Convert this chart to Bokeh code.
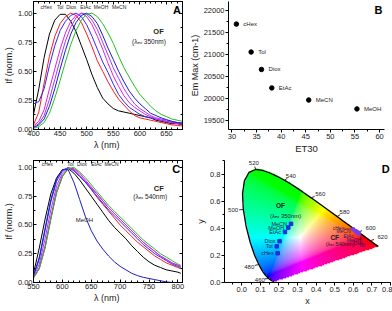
import numpy as np
from bokeh.plotting import figure
from bokeh.models import (Range1d, LinearAxis, SingleIntervalTicker, NumeralTickFormatter,
                          ColumnDataSource, CustomJSTickFormatter)
from bokeh.layouts import row, column
from bokeh.embed import file_html
from bokeh.resources import INLINE
from bokeh.core.properties import value

FONT = "Liberation Sans"

# ---------------- Panel A (OF emission, lambda_ex 350 nm) ----------------
WL_A = list(range(400, 690, 10))
A_BLACK = [.13, .35, .62, .82, .94, .99, .99, .93, .84, .72, .60, .47, .36, .27, .22, .18, .16, .15, .14, .13, .12, .11, .10, .08, .07, .06, .05, .05, .04]
A_RED = [.04, .15, .40, .63, .80, .91, .97, 1.0, .98, .92, .82, .71, .59, .50, .41, .33, .26, .21, .16, .12, .10, .09, .08, .07, .06, .05, .04, .035, .03]
A_BLUE1 = [.22, .24, .35, .55, .72, .85, .93, .98, 1.0, .97, .90, .80, .69, .58, .49, .39, .30, .24, .19, .16, .13, .11, .10, .09, .08, .07, .06, .055, .05]
A_MAG = [.03, .07, .17, .35, .52, .69, .83, .93, .98, 1.0, .97, .90, .80, .69, .57, .46, .37, .29, .23, .19, .16, .13, .11, .09, .08, .07, .06, .05, .045]
A_VIO = [.02, .05, .12, .26, .43, .60, .76, .88, .96, 1.0, .99, .94, .86, .75, .64, .53, .44, .35, .28, .22, .18, .15, .12, .10, .09, .08, .07, .06, .055]
A_BLUE2 = [.015, .04, .09, .20, .35, .52, .68, .82, .92, .98, 1.0, .97, .91, .81, .70, .60, .50, .41, .33, .27, .22, .18, .14, .12, .10, .085, .07, .06, .055]
A_GREEN = [.01, .025, .06, .14, .27, .42, .58, .73, .85, .94, .99, 1.0, .97, .91, .83, .74, .63, .53, .45, .37, .30, .25, .20, .16, .13, .11, .09, .08, .07]
A_SERIES = [A_BLACK, A_RED, A_BLUE1, A_MAG, A_VIO, A_BLUE2, A_GREEN]
A_COLORS = ["#000000", "#ff1a1a", "#2a2aff", "#e020e0", "#9a3cff", "#1c1cc8", "#22c022"]
A_NAMES = ["cHex", "Tol", "Diox", "EtAc", "MeOH", "MeCN"]
A_NAME_X = [424, 450, 471, 498, 527, 561]

# ---------------- Panel B (Em max vs ET30) ----------------
B_NAMES = ["cHex", "Tol", "Diox", "EtAc", "MeCN", "MeOH"]
ET30 = [30.9, 33.9, 36.0, 38.1, 45.6, 55.4]
EM_MAX = [21686, 21051, 20655, 20235, 19960, 19758]

# ---------------- Panel C (CF emission, lambda_ex 540 nm) ----------------
WL_C = list(range(550, 810, 10)) + [805]
C_BLACK = [.08, .30, .55, .77, .91, .98, .99, .95, .89, .82, .75, .68, .61, .54, .48, .43, .38, .32, .27, .22, .18, .15, .13, .11, .10, .09, .08]
C_BLUE = [.06, .20, .45, .70, .88, .97, 1.0, .97, .92, .87, .81, .75, .69, .63, .58, .53, .48, .43, .38, .33, .29, .25, .22, .19, .16, .14, .13]
C_VIO = [.05, .16, .38, .63, .84, .95, 1.0, .98, .93, .88, .82, .77, .71, .65, .60, .55, .50, .45, .40, .35, .31, .27, .23, .20, .17, .15, .14]
C_RED = [.04, .12, .30, .55, .78, .92, .99, .98, .93, .87, .81, .74, .68, .62, .56, .50, .45, .40, .35, .31, .27, .23, .20, .17, .15, .13, .12]
C_MAG = [.04, .13, .32, .57, .80, .93, .99, .99, .95, .89, .83, .77, .71, .65, .60, .55, .50, .45, .40, .35, .31, .27, .23, .20, .17, .15, .14]
C_GREEN = [.04, .12, .30, .55, .78, .92, .99, 1.0, .96, .91, .85, .79, .73, .67, .62, .57, .52, .47, .42, .37, .33, .29, .25, .22, .19, .16, .15]
C_MEOH = [.06, .22, .47, .72, .90, .98, .98, .87, .72, .57, .45, .36, .29, .23, .18, .14, .11, .08, .06, .045, .035, .025, .015, .005, 0.0, 0.0, 0.0]
C_SERIES = [C_BLACK, C_RED, C_BLUE, C_VIO, C_MAG, C_GREEN, C_MEOH]
C_COLORS = ["#000000", "#ff1a1a", "#2a2aff", "#9a3cff", "#e020e0", "#22c022", "#1c1cc8"]
C_NAMES = ["cHex", "Tol", "Diox", "EtAc", "MeCN"]
C_NAME_X = [574, 614, 634, 659, 685]

# ---------------- Panel D (CIE 1931) ----------------
LOCUS_WL = [380, 400, 420, 440, 450, 460, 470, 475, 480, 485, 490, 495, 500, 505, 510, 515, 520, 525,
            530, 535, 540, 545, 550, 555, 560, 565, 570, 575, 580, 585, 590, 595, 600, 605, 610, 620,
            630, 640, 660, 700]
LOCUS_X = [0.1741, 0.1733, 0.1714, 0.1644, 0.1566, 0.1440, 0.1241, 0.1096, 0.0913, 0.0687, 0.0454,
           0.0235, 0.0082, 0.0039, 0.0139, 0.0389, 0.0743, 0.1142, 0.1547, 0.1929, 0.2296, 0.2658,
           0.3016, 0.3373, 0.3731, 0.4087, 0.4441, 0.4788, 0.5125, 0.5448, 0.5752, 0.6029, 0.6270,
           0.6482, 0.6658, 0.6915, 0.7079, 0.7190, 0.7300, 0.7347]
LOCUS_Y = [0.0050, 0.0048, 0.0051, 0.0109, 0.0177, 0.0297, 0.0578, 0.0868, 0.1327, 0.2007, 0.2950,
           0.4127, 0.5384, 0.6548, 0.7502, 0.8120, 0.8338, 0.8262, 0.8059, 0.7816, 0.7543, 0.7243,
           0.6923, 0.6589, 0.6245, 0.5896, 0.5547, 0.5202, 0.4866, 0.4544, 0.4242, 0.3965, 0.3725,
           0.3514, 0.3340, 0.3083, 0.2920, 0.2809, 0.2700, 0.2653]
WL_LABELS = [460, 480, 500, 520, 540, 560, 580, 600, 620]
WL_LABEL_X = [0.097, 0.040, -0.047, 0.065, 0.264, 0.422, 0.553, 0.693, 0.757]
WL_LABEL_Y = [0.022, 0.116, 0.533, 0.878, 0.787, 0.653, 0.520, 0.405, 0.338]

OF_NAMES = ["cHex", "Tol", "Diox", "EtAc", "MeOH", "MeCN"]
OF_X = [0.193, 0.188, 0.203, 0.232, 0.250, 0.265]
OF_Y = [0.216, 0.267, 0.305, 0.373, 0.405, 0.433]
CF_NAMES = ["cHex", "MeCN", "EtAc", "MeOH", "Diox", "Tol"]
CF_X = [0.600, 0.612, 0.618, 0.622, 0.626, 0.630]
CF_Y = [0.392, 0.380, 0.374, 0.370, 0.366, 0.362]
CF_LABEL_X = [0.520, 0.547, 0.575, 0.603, 0.627, 0.646]
CF_LABEL_Y = [0.405, 0.378, 0.345, 0.316, 0.293, 0.276]


def base_fig(w, h, xr, yr, bl, br, bt, bb, outline=True):
    p = figure(width=w, height=h, x_range=Range1d(*xr), y_range=Range1d(*yr),
               output_backend="svg", toolbar_location=None,
               min_border_left=bl, min_border_right=br, min_border_top=bt, min_border_bottom=bb)
    p.xgrid.grid_line_color = None
    p.ygrid.grid_line_color = None
    p.outline_line_color = "black" if outline else None
    p.outline_line_width = 1
    p.background_fill_color = "white"
    p.border_fill_color = "white"
    return p


def style_axis(ax, label, ticker, fmt, inside, label_size="9px"):
    ax.ticker = ticker
    ax.formatter = NumeralTickFormatter(format=fmt)
    ax.axis_label = label
    ax.axis_label_text_font = FONT
    ax.axis_label_text_font_style = "normal"
    ax.axis_label_text_font_size = label_size
    ax.axis_label_text_color = "#222222"
    ax.axis_label_standoff = 1
    ax.major_label_text_font = FONT
    ax.major_label_text_font_size = "7.5px"
    ax.major_label_text_color = "#222222"
    ax.major_label_standoff = 1
    ax.axis_line_color = "black"
    ax.major_tick_line_color = "black"
    ax.minor_tick_line_color = "black"
    if inside:
        ax.major_tick_in, ax.major_tick_out = 3, 0
        ax.minor_tick_in, ax.minor_tick_out = 2, 0
    else:
        ax.major_tick_in, ax.major_tick_out = 0, 3
        ax.minor_tick_in, ax.minor_tick_out = 0, 2


def mirror(p, xticker, yticker):
    for loc, tk in (("above", xticker), ("right", yticker)):
        ax = LinearAxis(ticker=tk, formatter=CustomJSTickFormatter(code="return ''"),
                        major_tick_in=3, major_tick_out=0, minor_tick_in=2, minor_tick_out=0,
                        major_label_standoff=0, major_label_text_font_size="1px",
                        axis_line_color="black")
        p.add_layout(ax, loc)


def texts(p, xs, ys, ts, size="6.5px", align="center", style="normal", color="#222222",
          xoff=0, yoff=0):
    src = ColumnDataSource(dict(x=xs, y=ys, t=ts))
    p.text(x="x", y="y", text="t", source=src, text_font=value(FONT), text_font_size=value(size),
           text_align=align, text_baseline="middle", text_font_style=style, text_color=color,
           x_offset=xoff, y_offset=yoff)


# ---- Panel A ----
pA = base_fig(186, 156, (400, 680), (0, 1.10), 28, 4, 1, 24)
xtA = SingleIntervalTicker(interval=50, num_minor_ticks=5)
ytA = SingleIntervalTicker(interval=0.25, num_minor_ticks=2)
style_axis(pA.xaxis[0], "λ  (nm)", xtA, "0", True)
style_axis(pA.yaxis[0], "If (norm.)", ytA, "0.00", True)
mirror(pA, xtA, ytA)
for ys, c in zip(A_SERIES, A_COLORS):
    pA.line(WL_A, ys, line_color=c, line_width=1)
texts(pA, A_NAME_X, [1.054] * len(A_NAMES), A_NAMES, size="5px")
texts(pA, [635], [0.84], ["OF"], size="7.5px", style="bold")
texts(pA, [617], [0.757], ["(λₑₓ 350nm)"], size="6.5px")
texts(pA, [677], [1.03], ["A"], size="11px", style="bold", align="right", color="black")

# ---- Panel B ----
pB = base_fig(206, 156, (29.3, 61), (19290, 22200), 40, 8, 1, 24, outline=False)
style_axis(pB.xaxis[0], "ET30", SingleIntervalTicker(interval=5, num_minor_ticks=2), "0", False, "9.5px")
style_axis(pB.yaxis[0], "Em Max (cm-1)", SingleIntervalTicker(interval=500, num_minor_ticks=2), "0", False)
pB.scatter(ET30, EM_MAX, size=4.5, color="black")
texts(pB, ET30, EM_MAX, B_NAMES, size="6px", align="left", xoff=7)
texts(pB, [60.6], [22000], ["B"], size="11px", style="bold", align="right", color="black")

# ---- Panel C ----
pC = base_fig(186, 152, (550, 808), (0, 1.06), 28, 4, 4, 24)
xtC = SingleIntervalTicker(interval=50, num_minor_ticks=5)
ytC = SingleIntervalTicker(interval=0.25, num_minor_ticks=2)
style_axis(pC.xaxis[0], "λ  (nm)", xtC, "0", True)
style_axis(pC.yaxis[0], "If (norm.)", ytC, "0.00", True)
mirror(pC, xtC, ytC)
for ys, c in zip(C_SERIES, C_COLORS):
    pC.line(WL_C, ys, line_color=c, line_width=1)
texts(pC, C_NAME_X, [1.027] * len(C_NAMES), C_NAMES, size="5px")
texts(pC, [638], [0.547], ["MeOH"], size="6px")
texts(pC, [767], [0.82], ["CF"], size="7.5px", style="bold")
texts(pC, [752], [0.745], ["(λₑₓ 540nm)"], size="6.5px")
texts(pC, [804], [0.99], ["C"], size="11px", style="bold", align="right", color="black")

# ---- Panel D ----
pD = base_fig(206, 152, (-0.093, 0.80), (0, 0.90), 38, 2, 0, 20, outline=False)
style_axis(pD.xaxis[0], "x", SingleIntervalTicker(interval=0.1, num_minor_ticks=2), "0.0", False)
style_axis(pD.yaxis[0], "y", SingleIntervalTicker(interval=0.2, num_minor_ticks=2), "0.0", False)

# chromaticity background (colour conversion of the xy plane, masked to the locus)
lx = np.array(LOCUS_X)
ly = np.array(LOCUS_Y)
nx, ny = 240, 270
gx = np.linspace(0.0, 0.74, nx)
gy = np.linspace(0.0015, 0.84, ny)
GX, GY = np.meshgrid(gx, gy)
inside = np.zeros(GX.shape, dtype=bool)
j = len(lx) - 1
for i in range(len(lx)):
    cond = ((ly[i] > GY) != (ly[j] > GY)) & \
           (GX < (lx[j] - lx[i]) * (GY - ly[i]) / (ly[j] - ly[i] + 1e-12) + lx[i])
    inside ^= cond
    j = i
XX = GX / GY
ZZ = (1 - GX - GY) / GY
M = np.array([[3.2406, -1.5372, -0.4986], [-0.9689, 1.8758, 0.0415], [0.0557, -0.2040, 1.0570]])
rgb = np.stack([M[k, 0] * XX + M[k, 1] + M[k, 2] * ZZ for k in range(3)], axis=-1)
rgb = np.clip(rgb, 0, None)
rgb = rgb / np.maximum(rgb.max(axis=-1, keepdims=True), 1e-9)
rgb = rgb ** (1 / 2.2)
img = np.zeros((ny, nx, 4), dtype=np.uint8)
img[..., :3] = (rgb * 255).astype(np.uint8)
img[..., 3] = np.where(inside, 255, 0)
img32 = img.view(dtype=np.uint32).reshape((ny, nx))
pD.image_rgba(image=[img32], x=0.0, y=0.0, dw=0.74, dh=0.84)
pD.line(LOCUS_X, LOCUS_Y, line_color="black", line_width=1.3)

# wavelength ticks and labels
tx0, ty0, tx1, ty1 = [], [], [], []
for wl, lbx, lby in zip(WL_LABELS, WL_LABEL_X, WL_LABEL_Y):
    k = LOCUS_WL.index(wl)
    x0, y0 = LOCUS_X[k], LOCUS_Y[k]
    dx, dy = lbx - x0, lby - y0
    n = (dx * dx + dy * dy) ** 0.5
    tx0.append(x0); ty0.append(y0)
    tx1.append(x0 + 0.022 * dx / n); ty1.append(y0 + 0.022 * dy / n)
pD.segment(tx0, ty0, tx1, ty1, line_color="black", line_width=0.8)
texts(pD, WL_LABEL_X, WL_LABEL_Y, [str(w) for w in WL_LABELS], size="6px")

pD.scatter(OF_X, OF_Y, marker="square", size=3.5, color="#1f2fe0")
texts(pD, OF_X, OF_Y, OF_NAMES, size="5.5px", align="right", xoff=-4, color="#1c1c50")
# CF leader lines: from the cHex label to its marker, and a bracket down to Tol
pD.segment([CF_LABEL_X[0] + 0.03, CF_X[-1] + 0.01], [CF_LABEL_Y[0] - 0.01, CF_Y[-1] - 0.005],
           [CF_X[0], CF_X[-1] + 0.01], [CF_LABEL_Y[0] - 0.01, CF_LABEL_Y[-1] + 0.005],
           line_color="#3a1a60", line_width=0.6)
pD.scatter(CF_X, CF_Y, marker="square", size=3, color="#7a3cf0")
texts(pD, CF_LABEL_X, CF_LABEL_Y, CF_NAMES, size="5px", color="#3a1a60")
texts(pD, [0.208], [0.565], ["OF"], size="6.5px", style="bold")
texts(pD, [0.236], [0.493], ["(λₑₓ 350nm)"], size="6px")
texts(pD, [0.50], [0.33], ["CF"], size="6.5px", style="bold")
texts(pD, [0.528], [0.283], ["(λₑₓ 540nm)"], size="5.5px")
texts(pD, [0.795], [0.838], ["D"], size="11px", style="bold", align="right", color="black")

layout = column(row(pA, pB), row(pC, pD))
open("out.html", "w").write(file_html(layout, INLINE))
